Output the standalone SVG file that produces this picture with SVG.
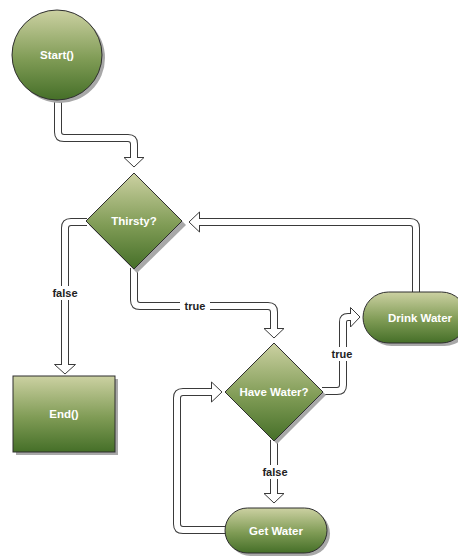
<svg xmlns="http://www.w3.org/2000/svg" width="458" height="558" viewBox="0 0 458 558">
<defs>
<linearGradient id="g" x1="0" y1="0" x2="0" y2="1">
<stop offset="0" stop-color="#ccd1a2"/>
<stop offset="0.55" stop-color="#7f9b55"/>
<stop offset="1" stop-color="#456f28"/>
</linearGradient>
<style>
.node{fill:url(#g);stroke:#2e2e2e;stroke-width:1}
.sh{fill:#a8a8a8}
.nt{font-family:"Liberation Sans",Arial,sans-serif;font-weight:bold;font-size:11.5px;fill:#ffffff;text-anchor:middle}
.lt{font-family:"Liberation Sans",Arial,sans-serif;font-weight:bold;font-size:11px;fill:#222;text-anchor:middle}
.po{fill:none;stroke:#3a3a3a;stroke-width:8}
.pi{fill:none;stroke:#ffffff;stroke-width:6}
.ah{fill:#ffffff;stroke:#3a3a3a;stroke-width:1;stroke-linejoin:miter}
.lb{fill:#ffffff}
</style>
</defs>
<rect width="458" height="558" fill="#ffffff"/>
<g id="connectors">
<!-- Start -> Thirsty -->
<path class="po" d="M58,99 V132 Q58,138 64,138 H128 Q134,138 134,144 V158"/>
<polygon class="ah" points="124,157.5 144,157.5 134,167"/>
<path class="pi" d="M58,99 V132 Q58,138 64,138 H128 Q134,138 134,144 V159"/>
<!-- Thirsty false -> End -->
<path class="po" d="M87,222 H71 Q65,222 65,228 V365"/>
<polygon class="ah" points="54.5,364.5 75.5,364.5 65,374"/>
<path class="pi" d="M87,222 H71 Q65,222 65,228 V366"/>
<rect class="lb" x="50" y="286" width="30" height="14"/>
<text class="lt" x="65" y="297">false</text>
<!-- Thirsty true -> Have Water -->
<path class="po" d="M134,268 V300 Q134,306 140,306 H268 Q274,306 274,312 V329"/>
<polygon class="ah" points="264,328.5 284,328.5 274,338"/>
<path class="pi" d="M134,268 V300 Q134,306 140,306 H268 Q274,306 274,312 V330"/>
<rect class="lb" x="180" y="299" width="30" height="14"/>
<text class="lt" x="195" y="310">true</text>
<!-- Have Water true -> Drink Water -->
<path class="po" d="M322,391 H337 Q343,391 343,385 V322 Q343,317 348,317 H351"/>
<polygon class="ah" points="350.5,307.5 350.5,327 360,317"/>
<path class="pi" d="M322,391 H337 Q343,391 343,385 V322 Q343,317 348,317 H352"/>
<rect class="lb" x="327" y="347" width="30" height="14"/>
<text class="lt" x="342" y="358">true</text>
<!-- Drink Water -> Thirsty -->
<path class="po" d="M416,292 V228 Q416,222 410,222 H199"/>
<polygon class="ah" points="199.5,212 199.5,232 189,222"/>
<path class="pi" d="M416,293 V228 Q416,222 410,222 H198"/>
<!-- Have Water false -> Get Water -->
<path class="po" d="M274,440 V494"/>
<polygon class="ah" points="264,493.5 284,493.5 274,503"/>
<path class="pi" d="M274,440 V495"/>
<rect class="lb" x="259" y="465" width="31" height="14"/>
<text class="lt" x="275" y="476">false</text>
<!-- Get Water -> Have Water -->
<path class="po" d="M226,530 H183 Q177,530 177,524 V398 Q177,392 183,392 H212"/>
<polygon class="ah" points="211.5,382 211.5,402 222,392"/>
<path class="pi" d="M226,530 H183 Q177,530 177,524 V398 Q177,392 183,392 H213"/>
</g>
<g id="start">
<circle class="sh" cx="60" cy="58" r="45"/>
<circle class="node" cx="57" cy="55" r="45"/>
<text class="nt" x="57" y="59">Start()</text>
</g>
<g id="thirsty">
<polygon class="sh" points="137,176 186,225 137,273 89,225"/>
<polygon class="node" points="134,173 182,221 134,269 86,221"/>
<text class="nt" x="134" y="225">Thirsty?</text>
</g>
<g id="end">
<rect class="sh" x="16" y="379" width="102" height="76"/>
<rect class="node" x="13" y="376" width="102" height="76"/>
<text class="nt" x="64" y="418">End()</text>
</g>
<g id="have-water">
<polygon class="sh" points="277,346 326,395 277,444 228,395"/>
<polygon class="node" points="274,343 323,392 274,441 225,392"/>
<text class="nt" x="274" y="396">Have Water?</text>
</g>
<g id="drink-water">
<rect class="sh" x="366" y="295" width="104" height="51" rx="25.5"/>
<rect class="node" x="363" y="292" width="104" height="51" rx="25.5"/>
<text class="nt" x="420" y="322">Drink Water</text>
</g>
<g id="get-water">
<rect class="sh" x="228" y="511" width="102" height="45" rx="22.5"/>
<rect class="node" x="225" y="508" width="102" height="45" rx="22.5"/>
<text class="nt" x="276" y="535">Get Water</text>
</g>
</svg>
